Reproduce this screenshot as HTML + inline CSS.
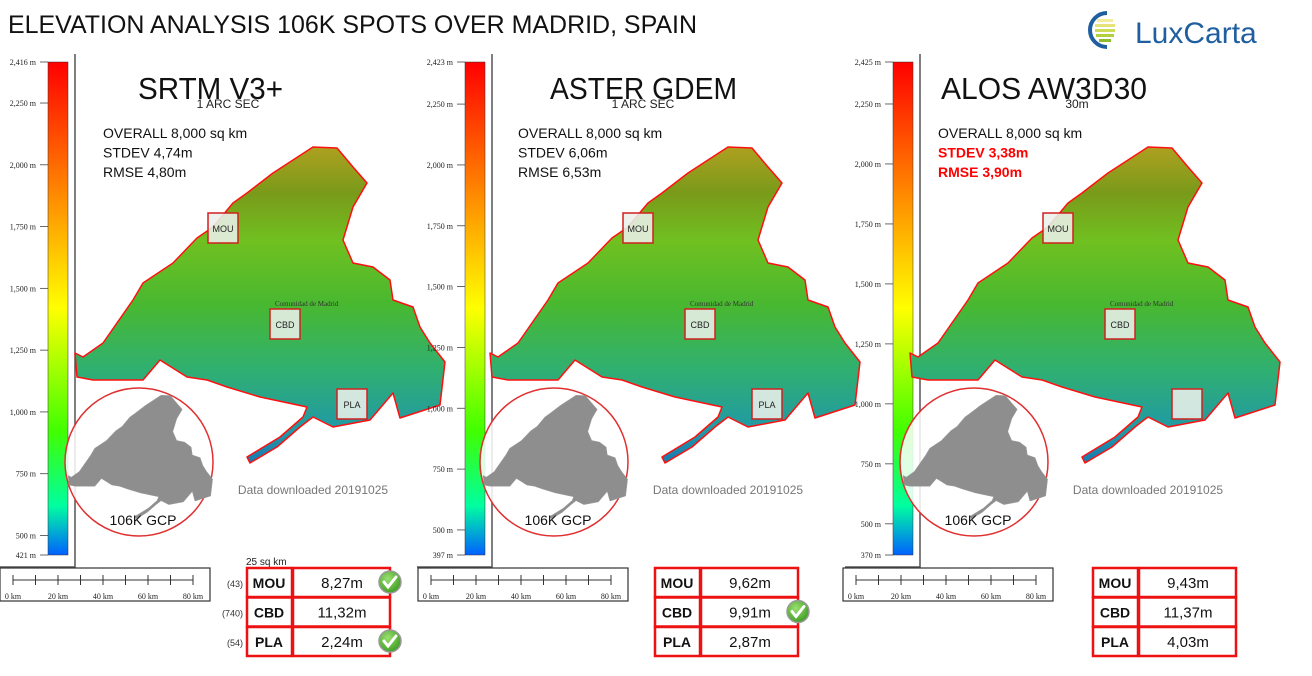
<!DOCTYPE html>
<html><head><meta charset="utf-8"><style>
body{margin:0;background:#fff;}
svg{display:block;font-family:"Liberation Sans",sans-serif;}
</style></head><body>
<svg id="s" width="1312" height="676" viewBox="0 0 1312 676">
<defs>
<linearGradient id="cb" x1="0" y1="0" x2="0" y2="1">
<stop offset="0" stop-color="#ff0000"/><stop offset="0.25" stop-color="#ff8000"/><stop offset="0.5" stop-color="#ffff00"/><stop offset="0.75" stop-color="#40ff00"/><stop offset="0.9" stop-color="#00ffa0"/><stop offset="1" stop-color="#0060ff"/>
</linearGradient>
<linearGradient id="mg" gradientUnits="userSpaceOnUse" x1="0" y1="145" x2="0" y2="465">
<stop offset="0" stop-color="#b0a020"/><stop offset="0.15" stop-color="#7a9a1a"/><stop offset="0.3" stop-color="#70c020"/><stop offset="0.5" stop-color="#48b830"/><stop offset="0.7" stop-color="#30b070"/><stop offset="0.9" stop-color="#2098a8"/><stop offset="1" stop-color="#1878b0"/>
</linearGradient>
<radialGradient id="chk" cx="0.4" cy="0.35" r="0.7"><stop offset="0" stop-color="#9be070"/><stop offset="1" stop-color="#3a9a20"/></radialGradient>
</defs>
<text x="8" y="33" font-size="25" fill="#111" textLength="689" lengthAdjust="spacingAndGlyphs">ELEVATION ANALYSIS 106K SPOTS OVER MADRID, SPAIN</text>
<g>
<path d="M1107 13 A17 17 0 1 0 1107 47" fill="none" stroke="#1f5f9f" stroke-width="4"/>
<rect x="1097" y="19" width="16" height="3" fill="#f3ec9a"/><rect x="1095" y="24" width="20" height="3" fill="#e5e37a"/><rect x="1095" y="29" width="20" height="3" fill="#cfdc5a"/><rect x="1096" y="34" width="18" height="3" fill="#b3cf40"/><rect x="1099" y="39" width="12" height="3" fill="#8dbb2a"/>
<text x="1135" y="43" font-size="30" fill="#1f5f9f">LuxCarta</text>
</g>
<g id="panels"></g>
</svg>
<script>
const panelNames=["srtm","aster","alos"];
const panelX=[0,415,835];
const titles=["SRTM V3+","ASTER GDEM","ALOS AW3D30"];
const titleX=[138,550,941];
const titleW=[145,187,206];
const subtitles=["1 ARC SEC","1 ARC SEC","30m"];
const stdevs=["4,74m","6,06m","3,38m"];
const rmses=["4,80m","6,53m","3,90m"];
const maxElev=[2416,2423,2425];
const minElev=[421,397,370];
const elevTicks=[2250,2000,1750,1500,1250,1000,750,500];
const kmTicks=[0,10,20,30,40,50,60,70,80];
const kmLabels=[0,20,40,60,80];
const sites=["MOU","CBD","PLA"];
const siteCounts=["(43)","(740)","(54)"];
const errMOU=["8,27m","9,62m","9,43m"];
const errCBD=["11,32m","9,91m","11,37m"];
const errPLA=["2,24m","2,87m","4,03m"];
const checks=[[true,false,true],[false,true,false],[false,false,false]];
const mapPts="75,353 83,357 103,343 133,300 143,283 173,263 197,238 213,227 233,203 247,193 273,173 313,147 337,148 353,167 367,183 353,207 343,240 353,263 373,267 390,280 393,300 413,307 420,327 430,343 445,362 440,405 400,418 393,393 370,420 333,427 313,417 300,427 277,447 250,463 247,457 280,437 303,417 307,407 260,397 227,387 207,380 187,377 160,360 143,380 93,380 77,377";
const NS="http://www.w3.org/2000/svg";
const root=document.getElementById('panels');
function mk(t,a,p,txt){const e=document.createElementNS(NS,t);for(const k in a)e.setAttribute(k,a[k]);if(txt!==undefined)e.textContent=txt;p.appendChild(e);return e;}
const cbTop=62,cbBot=555;
panelNames.forEach((nm,i)=>{
  const dx=panelX[i];
  const g=mk('g',{transform:`translate(${dx},0)`},root);
  
  
  const cbx=[48,50,58][i];
  const yScale=v=>cbTop+(maxElev[i]-v)/(maxElev[i]-minElev[i])*(cbBot-cbTop);
  const fr=mk('path',{d:`M${cbx+27} ${cbTop-8} V${cbBot+12} H${cbx-48}`,fill:'none',stroke:'#555','stroke-width':1.5},g);
  
  
  const cb=mk('rect',{x:cbx,y:cbTop,width:20,height:cbBot-cbTop,fill:'url(#cb)',stroke:'#333','stroke-width':0.5},g);
  
  
  const allT=[maxElev[i]].concat(elevTicks,[minElev[i]]);
  allT.forEach(v=>{
    const y=yScale(v);
    const l=mk('line',{x1:cbx-8,x2:cbx,y1:y,y2:y,stroke:'#444','stroke-width':0.8},g);
    
    
    const t=mk('text',{x:cbx-12,y:y+3,'font-size':8,'text-anchor':'end','font-family':'Liberation Serif,serif',fill:'#222'},g,v.toLocaleString('en-US')+' m');
    
    
  });
  const mp=mk('polygon',{points:mapPts,fill:'url(#mg)',stroke:'#ff1010','stroke-width':1.5,'stroke-linejoin':'round'},g);
  
  
  const cm=mk('text',{x:275,y:306,'font-size':7,'font-family':'Liberation Serif,serif',fill:'#333'},g,'Comunidad de Madrid');
  
  
  [[208,213,'MOU'],[270,309,'CBD'],[337,389,'PLA']].forEach((b,k)=>{
    const r=mk('rect',{x:b[0],y:b[1],width:30,height:30,fill:'rgba(235,240,235,0.88)',stroke:'#d02020','stroke-width':1.5},g);
    
    
    if(!(i===2&&k===2)){const t=mk('text',{x:b[0]+15,y:b[1]+19,'font-size':9,'text-anchor':'middle',fill:'#222'},g,b[2]);
    
    }
  });
  const cx=139,cy=462;
  const c=mk('circle',{cx:cx,cy:cy,r:74,fill:'rgba(255,255,255,0.85)',stroke:'#e03030','stroke-width':1.5},g);
  
  
  const ins=mk('polygon',{points:mapPts,fill:'#8e8e8e',stroke:'#999','stroke-width':1.5,transform:'translate(39,338) scale(0.39)'},g);
  
  
  const gl=mk('text',{x:143,y:525,'font-size':14,'text-anchor':'middle',fill:'#111'},g,'106K GCP');
  
  
  const dd=mk('text',{x:313,y:494,'font-size':12,'text-anchor':'middle',fill:'#777'},g,'Data downloaded 20191025');
  
  
  const tt=mk('text',{x:titleX[i]-dx,y:99,'font-size':31,fill:'#111',textLength:titleW[i],lengthAdjust:'spacingAndGlyphs'},g,titles[i]);
  
  
  const st=mk('text',{x:i===2?242:228,y:108,'font-size':12,'text-anchor':'middle',fill:'#222'},g,subtitles[i]);
  
  
  const lines=['OVERALL 8,000 sq km','STDEV '+stdevs[i],'RMSE '+rmses[i]];
  lines.forEach((s,k)=>{
    const red=i===2&&k>0;
    const t=mk('text',{x:103,y:138+k*19.5,'font-size':14,fill:red?'#ff0000':'#111','font-weight':red?'bold':'normal'},g,s);
    
    
  });
  const sbx=[0,3,8][i];
  const sb=mk('rect',{x:sbx,y:568,width:210,height:33,fill:'#fff',stroke:'#333','stroke-width':1.2},g);
  
  
  const kx=v=>sbx+13+v*2.25;
  mk('line',{x1:kx(0),x2:kx(80),y1:580,y2:580,stroke:'#333','stroke-width':1},g);
  kmTicks.forEach(v=>{const l=mk('line',{x1:kx(v),x2:kx(v),y1:575,y2:585,stroke:'#333','stroke-width':1},g);
    
    });
  kmLabels.forEach(v=>{const t=mk('text',{x:kx(v),y:599,'font-size':8,'text-anchor':'middle','font-family':'Liberation Serif,serif',fill:'#222'},g,v+' km');
    
    });
  const tx=[247,240,258][i];
  if(i===0){const t=mk('text',{x:tx-1,y:565,'font-size':10,fill:'#222'},g,'25 sq km');
    
    }
  const errs=[errMOU[i],errCBD[i],errPLA[i]];
  sites.forEach((s,k)=>{
    const y=568+k*29.5;
    const r1=mk('rect',{x:tx,y:y,width:45,height:29,fill:'#fff',stroke:'#ee1111','stroke-width':2.5},g);
    
    
    const r2=mk('rect',{x:tx+46,y:y,width:97,height:29,fill:'#fff',stroke:'#ee1111','stroke-width':2.5},g);
    
    
    const a=mk('text',{x:tx+22,y:y+20,'font-size':14,'font-weight':'bold','text-anchor':'middle',fill:'#111'},g,s);
    
    
    const b=mk('text',{x:tx+95,y:y+20,'font-size':15,'text-anchor':'middle',fill:'#111'},g,errs[k]);
    
    
    if(i===0){const c2=mk('text',{x:tx-4,y:y+19,'font-size':9,'text-anchor':'end',fill:'#333'},g,siteCounts[k]);
      
      }
    if(checks[i][k]){
      const ck=mk('g',{},g);
      
      
      mk('circle',{cx:tx+143,cy:y+14,r:11,fill:'url(#chk)',stroke:'#9a9a9a','stroke-width':1.5},ck);
      mk('path',{d:`M${tx+137} ${y+14} l4 5 l8 -10`,fill:'none',stroke:'#fff','stroke-width':3,'stroke-linecap':'round'},ck);
    }
  });
});
</script>
</body></html>
